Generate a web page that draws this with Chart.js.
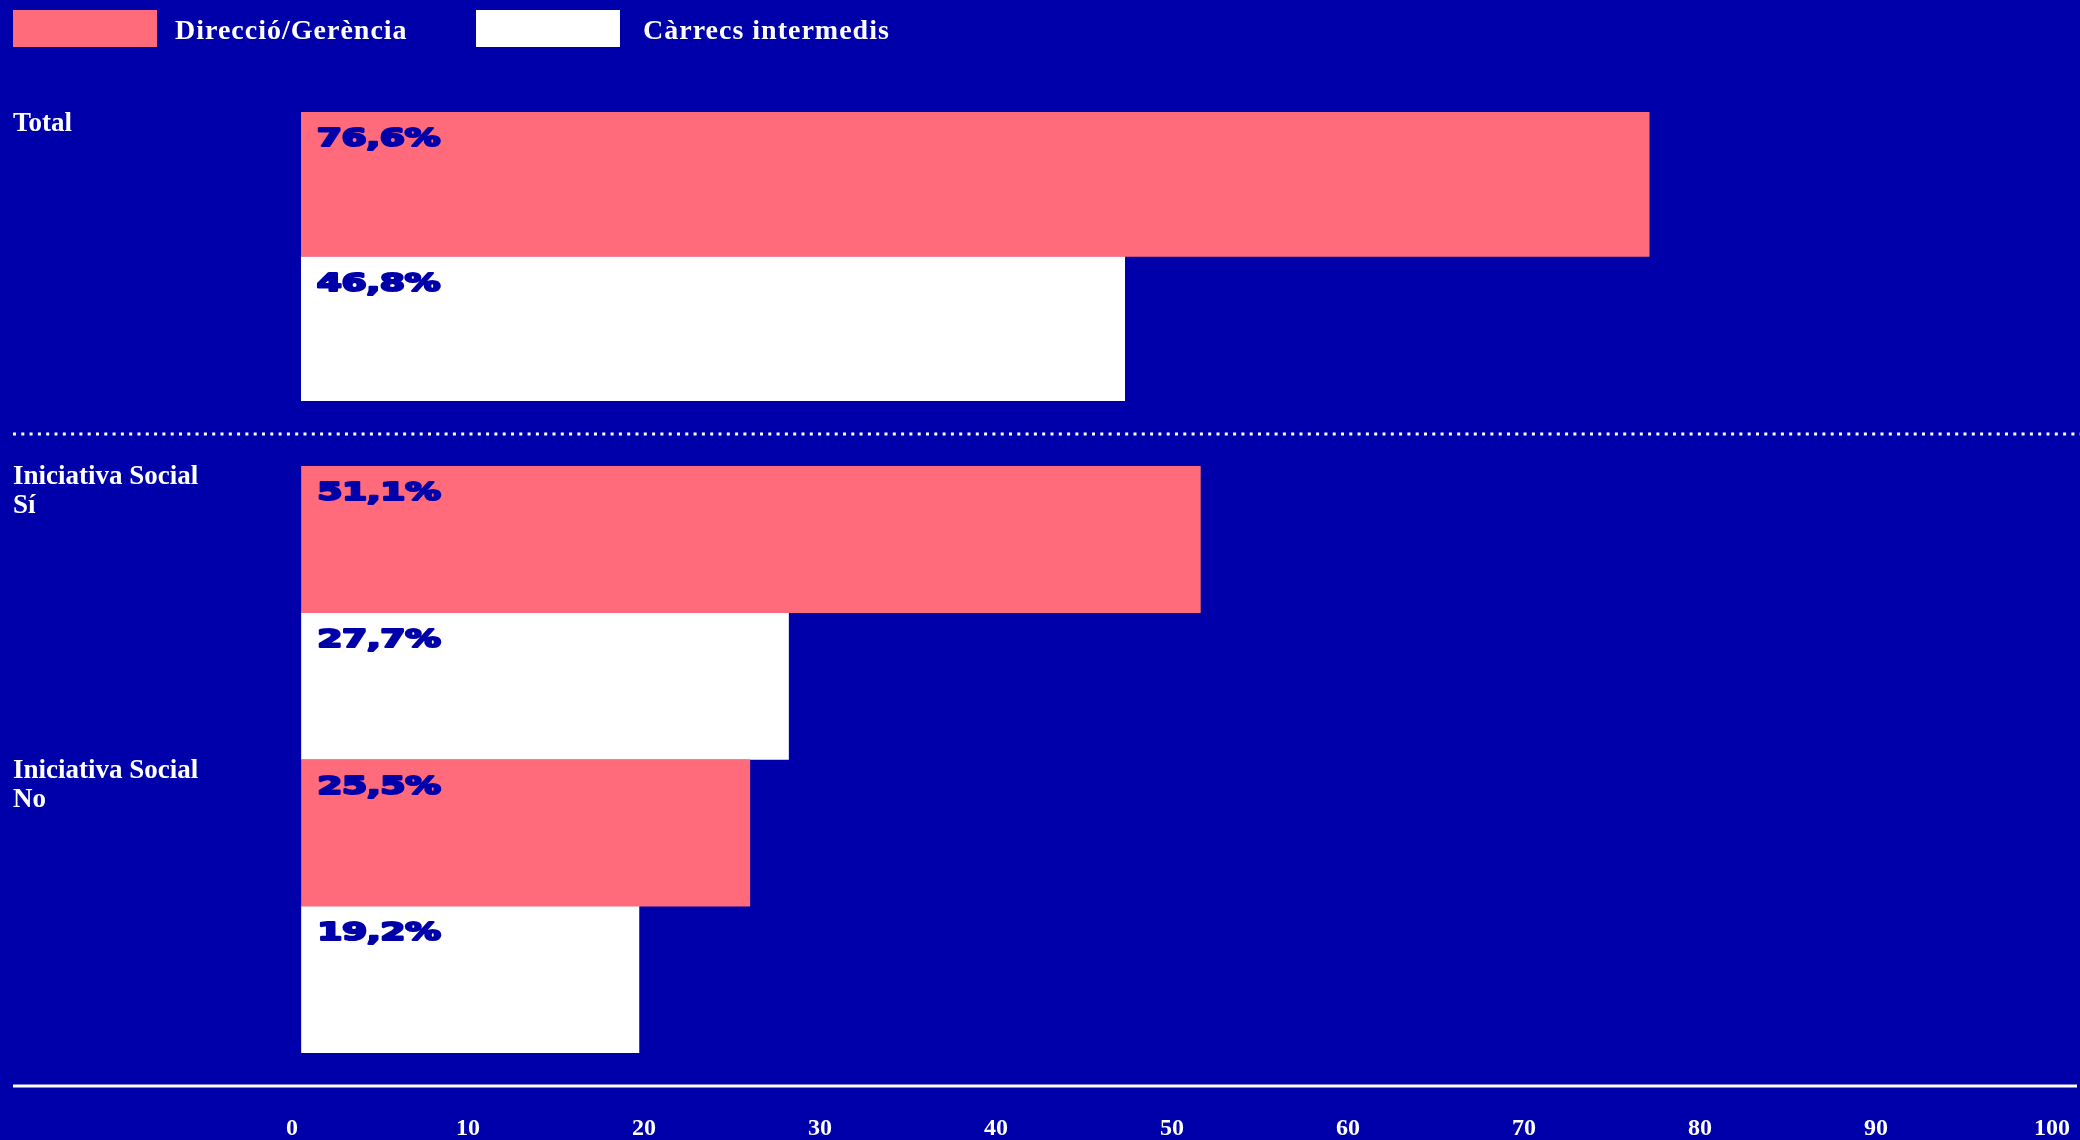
<!DOCTYPE html>
<html>
<head>
<meta charset="utf-8">
<script src="https://cdn.jsdelivr.net/npm/chart.js@4/dist/chart.umd.min.js"></script>
<style>
  html, body { margin: 0; padding: 0; background: #0000AA; }
  #wrap { position: relative; width: 2080px; height: 1140px; overflow: hidden; background: #0000AA; }
  canvas { position: absolute; left: 0; top: 0; }
  .lg-box { position: absolute; top: 10px; width: 144px; height: 37px; }
  .lg-text { position: absolute; top: 11px; height: 37px; line-height: 37px; color: #fff;
             font-family: "Liberation Serif", serif; font-weight: bold; font-size: 28px;
             letter-spacing: 1px; white-space: nowrap; }
</style>
</head>
<body>
<div id="wrap">
  <canvas id="cTotal" width="2080" height="1140"></canvas>
  <canvas id="cSocial" width="2080" height="1140"></canvas>
  <div id="legend"></div>
</div>
<script>
// ---- data ----
const categories = ['Total', ['Iniciativa Social', 'Sí'], ['Iniciativa Social', 'No']];
const seriesNames = ['Direcció/Gerència', 'Càrrecs intermedis'];
const direccio = [76.6, 51.1, 25.5];
const carrecs = [46.8, 27.7, 19.2];
const xTicks = [0, 10, 20, 30, 40, 50, 60, 70, 80, 90, 100];

// ---- styles ----
const BG = '#0000AA';
const PINK = '#FF6B7B';
const WHITE = '#FFFFFF';
const colors = [PINK, WHITE];

// legend (HTML)
const legend = document.getElementById('legend');
const lgBoxX = [13, 476];
const lgTextX = [175, 643];
seriesNames.forEach((n, i) => {
  const b = document.createElement('div');
  b.className = 'lg-box'; b.style.left = lgBoxX[i] + 'px'; b.style.background = colors[i];
  legend.appendChild(b);
  const t = document.createElement('div');
  t.className = 'lg-text'; t.style.left = lgTextX[i] + 'px'; t.textContent = n;
  legend.appendChild(t);
});

const valueLabels = {
  id: 'valueLabels',
  afterDatasetsDraw(chart) {
    const ctx = chart.ctx;
    ctx.save();
    ctx.fillStyle = BG;
    ctx.strokeStyle = BG;
    ctx.lineWidth = 2.2;
    ctx.lineJoin = 'round';
    ctx.font = 'bold 24px "DejaVu Sans"';
    ctx.textAlign = 'left';
    ctx.textBaseline = 'alphabetic';
    chart.data.datasets.forEach((ds, di) => {
      const meta = chart.getDatasetMeta(di);
      meta.data.forEach((el, i) => {
        const p = el.getProps(['x', 'y', 'base', 'height'], true);
        const top = p.y - p.height / 2;
        const txt = ds.data[i].toFixed(1).replace('.', ',') + '%';
        ctx.save();
        ctx.translate(Math.min(p.base, p.x) + 16, top + 34);
        ctx.scale(1.48, 1);
        ctx.fillText(txt, 0, 0);
        ctx.strokeText(txt, 0, 0);
        ctx.restore();
      });
    });
    ctx.restore();
  }
};

const decoLines = {
  id: 'decoLines',
  afterDraw(chart) {
    const ctx = chart.ctx;
    const a = chart.chartArea;
    ctx.save();
    ctx.strokeStyle = WHITE;
    ctx.lineWidth = 3;
    ctx.setLineDash([3, 5.3]);
    ctx.beginPath();
    ctx.moveTo(13, a.top - 32);
    ctx.lineTo(2080, a.top - 32);
    ctx.stroke();
    ctx.setLineDash([]);
    ctx.lineWidth = 3;
    ctx.beginPath();
    ctx.moveTo(13, a.bottom + 33);
    ctx.lineTo(2077, a.bottom + 33);
    ctx.stroke();
    ctx.restore();
  }
};

function makeDatasets(from, to) {
  return [
    { label: seriesNames[0], data: direccio.slice(from, to), backgroundColor: PINK,
      borderWidth: 0, barPercentage: 1, categoryPercentage: 1 },
    { label: seriesNames[1], data: carrecs.slice(from, to), backgroundColor: WHITE,
      borderWidth: 0, barPercentage: 1, categoryPercentage: 1 }
  ];
}

function yAxis(offset) {
  return {
    type: 'category',
    grid: { display: false },
    border: { display: false },
    ticks: {
      color: WHITE,
      font: { family: '"Liberation Serif"', weight: 'bold', size: 27, lineHeight: 1.08 },
      crossAlign: 'far',
      labelOffset: offset,
      padding: 0
    },
    afterFit(scale) { scale.width = 288; }
  };
}

Chart.defaults.font.family = '"Liberation Serif", serif';

new Chart(document.getElementById('cTotal'), {
  type: 'bar',
  data: { labels: categories.slice(0, 1), datasets: makeDatasets(0, 1) },
  plugins: [valueLabels],
  options: {
    responsive: false,
    animation: false,
    devicePixelRatio: 1,
    indexAxis: 'y',
    layout: { padding: { left: 13, right: 19, top: 112, bottom: 739 } },
    plugins: { legend: { display: false }, tooltip: { enabled: false } },
    scales: {
      x: { type: 'linear', min: 0, max: 100, display: false },
      y: yAxis(-132)
    }
  }
});

new Chart(document.getElementById('cSocial'), {
  type: 'bar',
  data: { labels: categories.slice(1), datasets: makeDatasets(1, 3) },
  plugins: [valueLabels, decoLines],
  options: {
    responsive: false,
    animation: false,
    devicePixelRatio: 1,
    indexAxis: 'y',
    layout: { padding: { left: 13, right: 19, top: 466, bottom: 0 } },
    plugins: { legend: { display: false }, tooltip: { enabled: false } },
    scales: {
      x: {
        type: 'linear', min: 0, max: 100,
        afterBuildTicks(scale) { scale.ticks = xTicks.map(v => ({ value: v })); },
        grid: { display: true, drawOnChartArea: false, drawTicks: true, tickLength: 61,
                color: 'rgba(0,0,0,0)' },
        border: { display: false },
        ticks: {
          color: WHITE,
          font: { family: '"Liberation Serif"', weight: 'bold', size: 24 },
          padding: 0,
          labelOffset: -9,
          maxRotation: 0,
          autoSkip: false
        },
        afterFit(scale) { scale.height = 87; }
      },
      y: yAxis(-121)
    }
  }
});
</script>
</body>
</html>
